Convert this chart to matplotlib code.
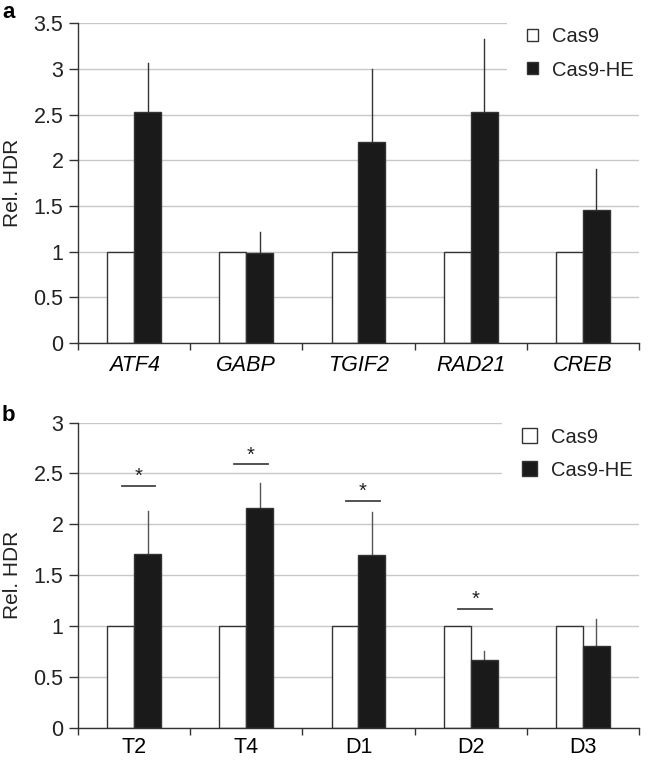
import matplotlib
matplotlib.use("Agg")
import matplotlib.pyplot as plt
from matplotlib.patches import Patch
import numpy as np

plt.rcParams['font.family'] = ['Liberation Sans', 'DejaVu Sans']

# Panel a data
genes_a = ["ATF4", "GABP", "TGIF2", "RAD21", "CREB"]
cas9_a = [1.0, 1.0, 1.0, 1.0, 1.0]
cas9he_a = [2.53, 0.99, 2.20, 2.53, 1.46]
cas9he_a_err = [0.54, 0.23, 0.80, 0.80, 0.45]

# Panel b data
sites_b = ["T2", "T4", "D1", "D2", "D3"]
cas9_b = [1.0, 1.0, 1.0, 1.0, 1.0]
cas9he_b = [1.71, 2.16, 1.70, 0.67, 0.80]
cas9he_b_err = [0.42, 0.25, 0.42, 0.08, 0.27]
sig_b = [0, 1, 2, 3]              # categories with significance marks
sig_level_b = [2.38, 2.59, 2.23, 1.17]

yticks_a = [0, 0.5, 1, 1.5, 2, 2.5, 3, 3.5]
yticklabels_a = ["0", "0.5", "1", "1.5", "2", "2.5", "3", "3.5"]
yticks_b = [0, 0.5, 1, 1.5, 2, 2.5, 3]
yticklabels_b = ["0", "0.5", "1", "1.5", "2", "2.5", "3"]

FS = 14.5
TFS = 15.5
DARK = "#333333"
GRID = "#c8c8c8"
BLACK = "#1a1a1a"

fig = plt.figure(figsize=(6.48, 7.61), dpi=100)
ax_a = fig.add_axes([0.1204, 0.5493, 0.8656, 0.4201])
ax_b = fig.add_axes([0.1204, 0.0438, 0.8656, 0.4008])


def draw(ax, cats, c1, c2, err, ymax, yticks, yticklabels, italic, handle_sz, leg_anchor,
         errcolor, xpad):
    x = np.arange(len(cats))
    w = 0.24
    ax.set_axisbelow(True)
    ax.bar(x - w / 2, c1, w, color="white", edgecolor=DARK, linewidth=1.0, zorder=2)
    ax.bar(x + w / 2, c2, w, color=BLACK, edgecolor=DARK, linewidth=1.0, zorder=2)
    for xi, v, e in zip(x + w / 2, c2, err):
        ax.plot([xi, xi], [v, v + e], color=errcolor, lw=1.0, zorder=1)
    ax.set_xlim(-0.5, len(cats) - 0.5)
    ax.set_ylim(0, ymax)
    ax.set_yticks(yticks)
    ax.set_yticklabels(yticklabels, fontsize=TFS)
    ax.yaxis.grid(True, color=GRID, lw=1.0)
    ax.set_xticks(np.arange(len(cats) + 1) - 0.5)
    ax.set_xticklabels([])
    ax.set_xticks(x, minor=True)
    ax.set_xticklabels(cats, minor=True, fontsize=TFS, style="italic" if italic else "normal")
    ax.tick_params(axis="x", which="major", length=5, color=DARK, width=1, direction="out")
    ax.tick_params(axis="x", which="minor", length=0, pad=xpad)
    ax.tick_params(axis="y", length=6.5, color=DARK, width=1, pad=4, labelcolor="#222222")
    for s in ["top", "right"]:
        ax.spines[s].set_visible(False)
    for s in ["left", "bottom"]:
        ax.spines[s].set_color(DARK)
        ax.spines[s].set_linewidth(1.0)
    ax.set_ylabel("Rel. HDR", fontsize=15, color="#222222")
    ax.yaxis.set_label_coords(-0.100, 0.5)
    handles = [Patch(facecolor="white", edgecolor=DARK, linewidth=1.0),
               Patch(facecolor=BLACK, edgecolor=DARK, linewidth=1.0)]
    leg = ax.legend(handles, ["Cas9", "Cas9-HE"], loc="upper left", bbox_to_anchor=leg_anchor,
                    fontsize=FS, frameon=True, facecolor="white", edgecolor="none", framealpha=1,
                    handlelength=handle_sz, handleheight=handle_sz, handletextpad=0.7,
                    labelspacing=0.7, borderpad=1.0, borderaxespad=0)
    leg.get_frame().set_boxstyle("square", pad=0)
    for t in leg.get_texts():
        t.set_color("#222222")
    return x


draw(ax_a, genes_a, cas9_a, cas9he_a, cas9he_a_err, 3.5, yticks_a, yticklabels_a, True, 0.55,
     (0.765, 1.05), "#333333", 9)
xb = draw(ax_b, sites_b, cas9_b, cas9he_b, cas9he_b_err, 3.0, yticks_b, yticklabels_b, False, 0.78,
          (0.755, 1.05), "#555555", 6.5)

for i, lvl in zip(sig_b, sig_level_b):
    c = xb[i] + 0.04
    ax_b.plot([c - 0.15, c + 0.15], [lvl, lvl], color="#444444", lw=1.3, zorder=3)
    ax_b.text(c, lvl + 0.0, "*", ha="center", va="bottom", fontsize=FS, color="#222222")

fig.text(0.003, 0.998, "a", fontsize=16, fontweight="bold", va="top", ha="left")
fig.text(0.003, 0.468, "b", fontsize=16, fontweight="bold", va="top", ha="left")

fig.savefig("out.png", dpi=100)
